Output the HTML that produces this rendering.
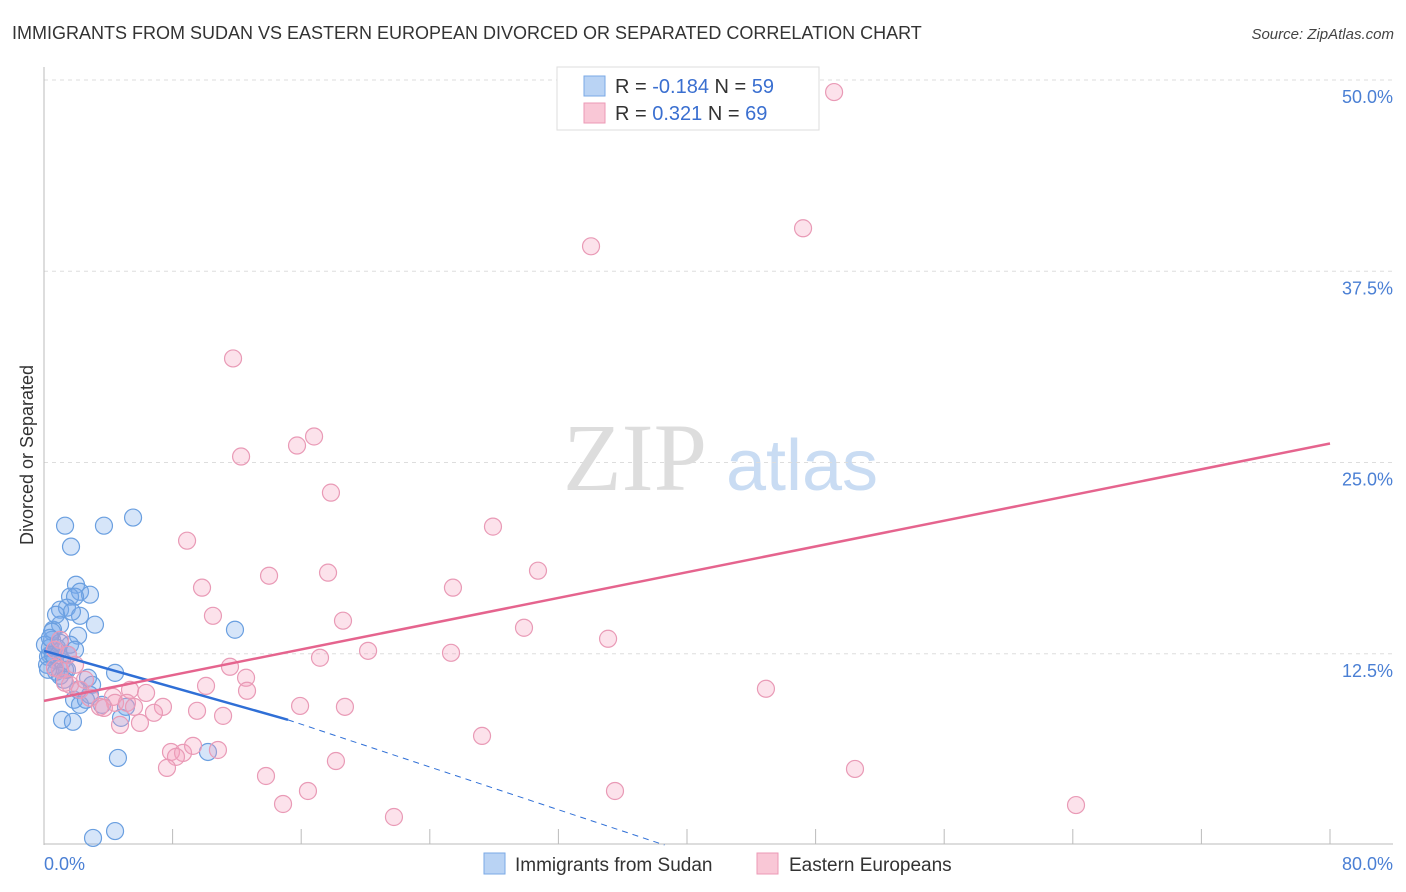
<!DOCTYPE html>
<html><head><meta charset="utf-8"><style>
body{margin:0;background:#fff;font-family:"Liberation Sans",sans-serif;}
svg{display:block}
</style></head><body>
<svg id="chart" width="1406" height="892" xmlns="http://www.w3.org/2000/svg">
<text x="12" y="39" font-size="18" fill="#333">IMMIGRANTS FROM SUDAN VS EASTERN EUROPEAN DIVORCED OR SEPARATED CORRELATION CHART</text>
<text x="1394" y="39" font-size="15" fill="#444" font-style="italic" text-anchor="end">Source: ZipAtlas.com</text>
<g>
<text x="635" y="490" font-size="96" fill="#ddd" font-family="Liberation Serif,serif" text-anchor="middle">ZIP</text>
<text x="802" y="490" font-size="72" fill="#c9dcf3" text-anchor="middle">atlas</text>
</g>
<g id="grid"></g><g id="axes"></g><g id="points"></g><g id="trends"></g>
<text transform="translate(33,455) rotate(-90)" font-size="18" fill="#333" text-anchor="middle">Divorced or Separated</text>
<g>
<rect x="557" y="67" width="262" height="63" fill="#fff" stroke="#ddd"/>
<rect x="584" y="76" width="21" height="20" fill="#b9d3f4" stroke="#7aa8e6"/>
<rect x="584" y="103" width="21" height="20" fill="#f9c7d6" stroke="#ec9ab6"/>
<text x="615" y="93" font-size="20" fill="#333">R = <tspan fill="#3a6fd0">-0.184</tspan>   N = <tspan fill="#3a6fd0">59</tspan></text>
<text x="615" y="120" font-size="20" fill="#333">R =  <tspan fill="#3a6fd0"> 0.321</tspan>   N = <tspan fill="#3a6fd0">69</tspan></text>
</g>
<g>
<rect x="484" y="853" width="21" height="21" fill="#b9d3f4" stroke="#7aa8e6"/>
<text x="515" y="871" font-size="19" fill="#333">Immigrants from Sudan</text>
<rect x="757" y="853" width="21" height="21" fill="#f9c7d6" stroke="#ec9ab6"/>
<text x="789" y="871" font-size="19" fill="#333">Eastern Europeans</text>
</g>
</svg>
<script>
const yTicks=[12.5,25,37.5,50];
const yTickLabels=["12.5%","25.0%","37.5%","50.0%"];
const xTickLabels=["0.0%","80.0%"];
const sudanX=[1.31,3.73,5.54,1.68,1.99,2.24,2.86,1.62,1.93,1.00,1.43,2.24,1.00,3.17,2.12,0.56,0.50,0.87,1.62,1.93,0.37,0.68,1.12,1.43,0.19,0.37,0.81,0.50,0.75,1.31,2.74,1.00,4.42,2.99,2.12,1.87,2.24,5.10,2.86,1.12,1.80,4.79,4.60,10.20,11.88,3.05,4.42,0.25,0.56,1.00,1.49,0.06,0.25,1.24,2.61,3.61,0.37,0.75,1.74];
const sudanY=[20.87,20.87,21.40,19.50,17.01,16.55,16.36,16.23,16.23,15.38,15.51,14.98,14.40,14.40,13.68,14.07,13.41,12.63,13.09,12.76,12.43,12.10,11.97,11.45,11.78,12.89,12.89,13.94,11.32,11.45,10.93,11.06,11.25,10.47,10.14,9.49,9.16,9.03,9.81,8.18,8.05,8.31,5.69,6.08,14.07,0.46,0.91,12.30,12.43,13.22,12.43,13.09,11.45,10.80,9.49,9.16,13.54,15.05,15.25];
const eastX=[49.15,34.03,47.22,11.76,12.26,15.74,16.80,17.85,27.93,8.90,30.73,14.00,17.67,25.44,9.83,10.51,18.60,29.86,35.09,20.16,25.32,17.17,11.57,12.57,12.63,10.08,44.91,5.35,6.35,4.29,4.42,5.16,3.48,3.73,7.40,6.84,5.60,9.52,11.14,15.93,18.72,4.73,5.97,7.90,8.65,9.27,10.82,8.21,7.65,13.81,18.16,27.25,50.45,14.87,16.42,21.77,35.52,64.20,1.00,0.68,1.62,2.24,1.31,2.86,0.68,1.00,1.49,1.93,2.55];
const eastY=[49.21,39.13,40.31,31.80,25.39,26.11,26.70,23.03,20.81,19.89,17.93,17.60,17.80,16.82,16.82,14.98,14.66,14.20,13.48,12.69,12.56,12.24,11.65,10.93,10.08,10.40,10.21,10.14,9.94,9.68,9.29,9.29,9.03,8.96,9.03,8.64,9.03,8.77,8.44,9.09,9.03,7.85,7.98,6.08,6.02,6.48,6.21,5.76,5.04,4.51,5.49,7.13,4.97,2.68,3.53,1.83,3.53,2.61,11.45,11.58,10.47,10.14,10.60,9.62,12.76,13.41,12.43,11.78,10.80];
const sudanTrendX=[0,15.18,38.6];
const sudanTrendY=[12.69,8.18,0];
const eastTrendX=[0,80];
const eastTrendY=[9.42,26.24];
const NS="http://www.w3.org/2000/svg";
const xS=v=>44+v*16.075, yS=v=>845-v*15.3;
function mk(tag,attrs,parent){const e=document.createElementNS(NS,tag);for(const k in attrs)e.setAttribute(k,attrs[k]);parent.appendChild(e);return e;}
const grid=document.getElementById('grid'),axes=document.getElementById('axes'),pts=document.getElementById('points'),tr=document.getElementById('trends');
yTicks.forEach((t,i)=>{
 const l=mk('line',{x1:44,x2:1393,y1:yS(t),y2:yS(t),stroke:'#ddd','stroke-dasharray':'4,4'},grid);
 
 
 const tx=mk('text',{x:1393,y:yS(t)+23,'font-size':18,fill:'#4a7fd4','text-anchor':'end'},axes);
 tx.textContent=yTickLabels[i];
 
 
});
const ya=mk('line',{x1:44,x2:44,y1:67,y2:845,stroke:'#bbb'},axes);


const xa=mk('line',{x1:44,x2:1393,y1:844,y2:844,stroke:'#bbb'},axes);


for(let i=0;i<=10;i++){const t=mk('line',{x1:xS(i*8),x2:xS(i*8),y1:829,y2:844,stroke:'#bbb'},axes);
 
 }
[[0,'start'],[80,'end']].forEach((p,i)=>{const t=mk('text',{x:i?1393:44,y:870,'font-size':18,fill:'#4a7fd4','text-anchor':p[1]},axes);t.textContent=xTickLabels[i];
 
 });
sudanX.forEach((x,i)=>{const c=mk('circle',{cx:xS(x),cy:yS(sudanY[i]),r:8.5,fill:'rgba(120,170,235,0.3)',stroke:'#6a9fe0','stroke-width':1.2},pts);
 
 });
eastX.forEach((x,i)=>{const c=mk('circle',{cx:xS(x),cy:yS(eastY[i]),r:8.5,fill:'rgba(245,160,190,0.3)',stroke:'#e99ab6','stroke-width':1.2},pts);
 
 });
const bs=mk('line',{x1:xS(sudanTrendX[0]),y1:yS(sudanTrendY[0]),x2:xS(sudanTrendX[1]),y2:yS(sudanTrendY[1]),stroke:'#2f6fd6','stroke-width':2.5},tr);


const bd=mk('line',{x1:xS(sudanTrendX[1]),y1:yS(sudanTrendY[1]),x2:xS(sudanTrendX[2]),y2:yS(sudanTrendY[2]),stroke:'#2f6fd6','stroke-width':1,'stroke-dasharray':'6,5'},tr);


const pl=mk('line',{x1:xS(eastTrendX[0]),y1:yS(eastTrendY[0]),x2:xS(eastTrendX[1]),y2:yS(eastTrendY[1]),stroke:'#e5648e','stroke-width':2.5},tr);


</script>
</body></html>
